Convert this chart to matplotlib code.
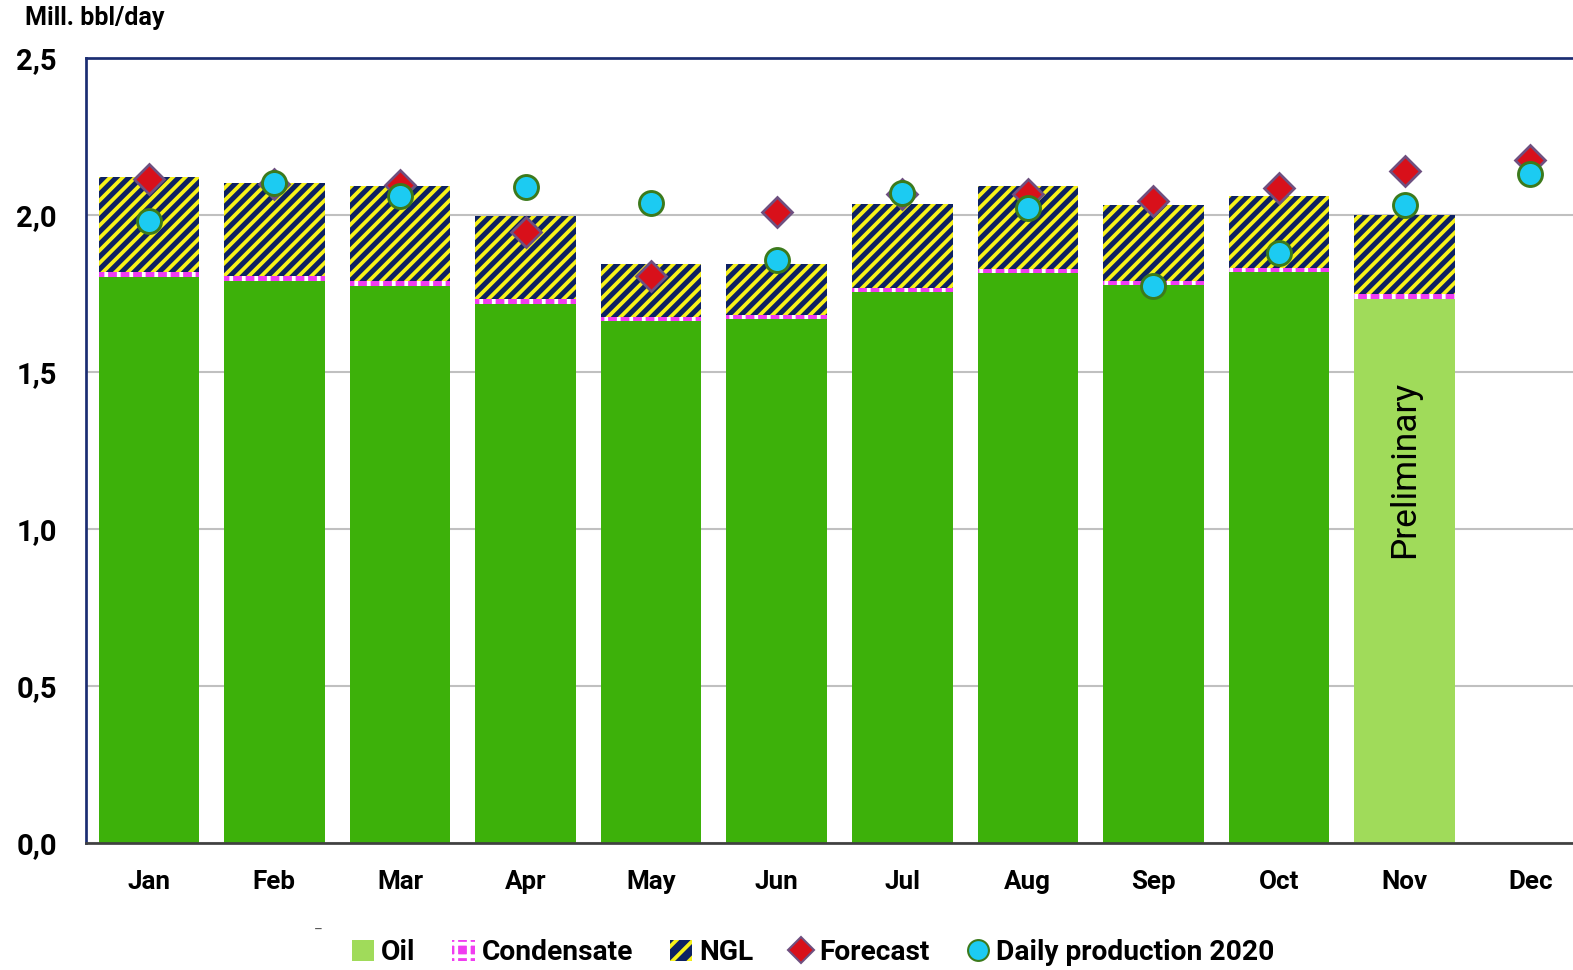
import numpy as np
import matplotlib
matplotlib.use("Agg")
import matplotlib.pyplot as plt
from matplotlib.patches import Patch
from matplotlib.lines import Line2D

months = ['Jan', 'Feb', 'Mar', 'Apr', 'May', 'Jun', 'Jul', 'Aug', 'Sep', 'Oct', 'Nov', 'Dec']
oil = [1.803, 1.790, 1.774, 1.717, 1.662, 1.669, 1.755, 1.815, 1.777, 1.818, 1.732]
condensate = [0.015, 0.015, 0.015, 0.015, 0.013, 0.013, 0.013, 0.013, 0.013, 0.013, 0.016]
ngl = [0.303, 0.297, 0.302, 0.265, 0.169, 0.162, 0.267, 0.264, 0.242, 0.229, 0.252]
forecast = [2.115, 2.100, 2.096, 1.946, 1.806, 2.010, 2.068, 2.067, 2.045, 2.086, 2.140, 2.175]
daily = [1.980, 2.102, 2.060, 2.089, 2.038, 1.857, 2.070, 2.022, 1.774, 1.879, 2.032, 2.130]
yticks = [0.0, 0.5, 1.0, 1.5, 2.0, 2.5]

DPI = 150
plt.rcParams['font.family'] = ['Roboto', 'DejaVu Sans']
plt.rcParams['hatch.linewidth'] = 1.8

fig = plt.figure(figsize=(1573 / DPI, 970 / DPI), dpi=DPI)
ax = fig.add_axes([86 / 1573, 127 / 970, 1507 / 1573, 785 / 970])

x = np.arange(len(months))
nb = len(oil)
oil_colors = ['#3db10a'] * (nb - 1) + ['#a0db5a']
ax.bar(x[:nb], oil, width=0.8, color=oil_colors, linewidth=0, zorder=2)
cond_bottom = np.array(oil)
ax.bar(x[:nb], condensate, width=0.8, bottom=cond_bottom, facecolor='#f03cf0',
       edgecolor='white', hatch='||', linewidth=0, zorder=2)
ngl_bottom = cond_bottom + np.array(condensate)
ax.bar(x[:nb], ngl, width=0.8, bottom=ngl_bottom, facecolor='#0d2163',
       edgecolor='#f7f21a', hatch='////', linewidth=0, zorder=2)

ax.plot(x, forecast, linestyle='none', marker='D', markersize=10.5,
        markerfacecolor='#d8101a', markeredgecolor='#6e5080', markeredgewidth=1.3, zorder=4)
ax.plot(x, daily, linestyle='none', marker='o', markersize=11.5,
        markerfacecolor='#1ccbf2', markeredgecolor='#3c7a1c', markeredgewidth=1.4, zorder=5)

ax.text(x[10], 1.19, 'Preliminary', rotation=90, ha='center', va='center',
        fontsize=17, color='black', zorder=6)

ax.set_xlim(-0.5, len(months) - 0.5)
ax.set_ylim(0, 2.5)
ax.set_yticks(yticks)
ax.set_yticklabels([f'{v:.1f}'.replace('.', ',') for v in yticks],
                   fontsize=14, fontweight='bold')
ax.set_xticks(x)
ax.set_xticklabels(months, fontsize=12.5, fontweight='bold')
ax.tick_params(axis='y', length=0, pad=14)
ax.tick_params(axis='x', length=0, pad=13)

ax.yaxis.grid(True, color='#c0c0c0', linewidth=1.0)
ax.set_axisbelow(True)
for s in ['left', 'top']:
    ax.spines[s].set_color('#1b2d72')
    ax.spines[s].set_linewidth(1.3)
ax.spines['bottom'].set_color('#404040')
ax.spines['bottom'].set_linewidth(1.3)
ax.spines['right'].set_visible(False)

fig.text(25 / 1573, 1 - 18 / 970, 'Mill. bbl/day', fontsize=12, fontweight='bold',
         ha='left', va='center')
fig.text(318 / 1573, 1 - 925 / 970, '_', fontsize=7, ha='center', va='center', color='#555555')

handles = [
    Patch(facecolor='#a0db5a', edgecolor='none', label='Oil'),
    Patch(facecolor='#f03cf0', edgecolor='white', hatch='++', linewidth=0, label='Condensate'),
    Patch(facecolor='#0d2163', edgecolor='#f7f21a', hatch='///', linewidth=0, label='NGL'),
    Line2D([], [], linestyle='none', marker='D', markersize=9, markerfacecolor='#d8101a',
           markeredgecolor='#6e5080', label='Forecast'),
    Line2D([], [], linestyle='none', marker='o', markersize=10, markerfacecolor='#1ccbf2',
           markeredgecolor='#3c7a1c', label='Daily production 2020'),
]
fig.legend(handles=handles, loc='center', bbox_to_anchor=(813 / 1573, 1 - 953 / 970),
           ncol=5, frameon=False, handlelength=0.8, handleheight=0.8, handletextpad=0.25,
           columnspacing=1.3, prop={'weight': 'bold', 'size': 13.5})

fig.savefig('out.png', dpi=DPI)
